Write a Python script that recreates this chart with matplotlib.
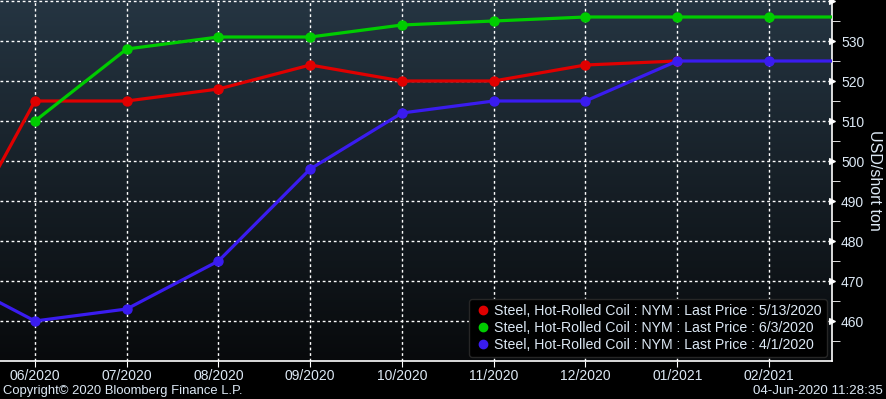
import numpy as np
import matplotlib
matplotlib.use("Agg")
import matplotlib.pyplot as plt
from matplotlib.lines import Line2D

# month labels (index 0 = 05/2020)
months = ["05/2020", "06/2020", "07/2020", "08/2020", "09/2020", "10/2020",
          "11/2020", "12/2020", "01/2021", "02/2021", "03/2021"]

# forward curves
red_may13 = [473, 515, 515, 518, 524, 520, 520, 524, 525]
green_jun3 = [None, 510, 528, 531, 531, 534, 535, 536, 536, 536, 536]
blue_apr1 = [472, 460, 463, 475, 498, 512, 515, 515, 525, 525, 525]

legend_labels = ["Steel, Hot-Rolled Coil : NYM : Last Price : 5/13/2020",
                 "Steel, Hot-Rolled Coil : NYM : Last Price : 6/3/2020",
                 "Steel, Hot-Rolled Coil : NYM : Last Price : 4/1/2020"]
colors = ["#e00000", "#00cc00", "#3a1cf0"]

txt = "#dce8f4"
plt.rcParams['font.family'] = ['Liberation Sans', 'DejaVu Sans']

fig = plt.figure(figsize=(8.86, 3.99), dpi=100, facecolor="black")
ax = fig.add_axes([0.0, 1 - 361 / 399, 832 / 886, 361 / 399])
ax.set_facecolor("black")

# gradient background
grad = np.linspace(0, 1, 256).reshape(-1, 1)
top = np.array([0x25, 0x35, 0x42]) / 255
bot = np.array([0x08, 0x0a, 0x0c]) / 255
img = top * (1 - grad[..., None]) + bot * grad[..., None]
img = np.repeat(img, 2, axis=1)
ax.imshow(img, extent=[0, 1, 0, 1], transform=ax.transAxes, aspect="auto", zorder=0)

def series(vals):
    x = [i for i, v in enumerate(vals) if v is not None]
    y = [v for v in vals if v is not None]
    return x, y

for vals, c in zip([red_may13, green_jun3, blue_apr1], colors):
    x, y = series(vals)
    ax.plot(x, y, color=c, lw=2.3, marker="o", ms=6.5, zorder=3)

ax.set_xlim(0.619, 9.687)
ax.set_ylim(450, 540.25)

ax.set_xticks(range(1, 10))
ax.set_xticklabels(months[1:10])
ax.set_yticks(range(460, 541, 10))
ax.set_yticks(range(455, 541, 5), minor=True)

ax.grid(True, which="major", color="white", ls=(0, (2, 2)), lw=1, zorder=1)
ax.yaxis.tick_right()
ax.yaxis.set_label_position("right")
for s in ["left", "top"]:
    ax.spines[s].set_visible(False)
for s in ["right", "bottom"]:
    ax.spines[s].set_color("white")
    ax.spines[s].set_linewidth(1.2)

ax.tick_params(axis="x", colors="white", labelcolor=txt, labelsize=10, length=4, pad=1.5)
ax.tick_params(axis="y", which="both", colors="white", labelcolor=txt, labelsize=10, pad=3)
ax.tick_params(axis="y", which="minor", length=6)
for t in ax.yaxis.get_major_ticks():
    t.tick2line.set_marker(">")
    t.tick2line.set_markersize(5)
    t.tick2line.set_markerfacecolor("white")
    t.tick2line.set_markeredgecolor("white")
ax.yaxis.get_major_ticks()[-1].label2.set_visible(False)

ax.set_ylabel("USD/short ton", color=txt, fontsize=11.5, rotation=-90, labelpad=13)

handles = [Line2D([], [], ls="none", marker="o", color=c, ms=6) for c in colors]
leg = ax.legend(handles, legend_labels, loc="lower right", bbox_to_anchor=(0.997, 0.004),
                fontsize=10.2, frameon=True, facecolor="black", edgecolor="#262626",
                framealpha=1, handletextpad=0.15, borderpad=0.35, labelspacing=0.2,
                handlelength=1.3, borderaxespad=0.2)
for t in leg.get_texts():
    t.set_color(txt)
leg.set_zorder(5)

fig.text(0.003, 0.005, "Copyright\u00a9 2020 Bloomberg Finance L.P.", color=txt, fontsize=9.4, ha="left", va="bottom")
fig.text(0.997, 0.005, "04-Jun-2020 11:28:35", color=txt, fontsize=9.6, ha="right", va="bottom")

fig.savefig("out.png", dpi=100, facecolor="black")
